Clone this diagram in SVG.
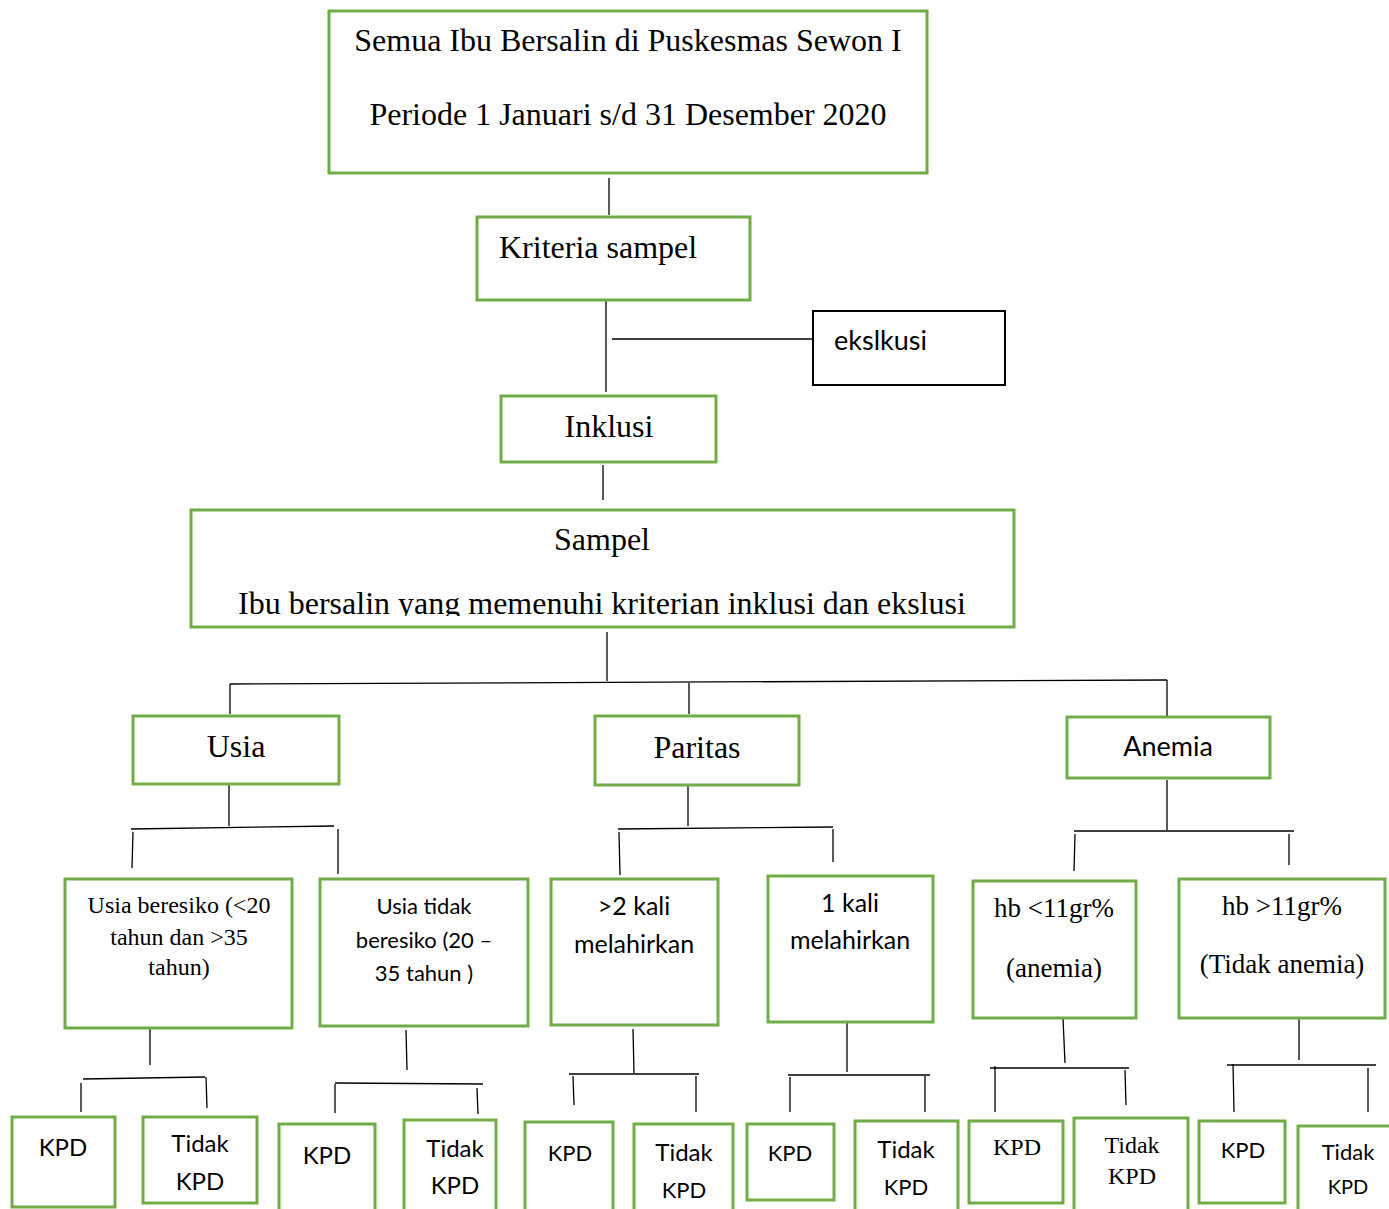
<svg xmlns="http://www.w3.org/2000/svg" width="1389" height="1209" viewBox="0 0 1389 1209">
<defs>
<style>
.g{fill:#fff;stroke:#70AD47;stroke-width:3}
.k{fill:#fff;stroke:#000;stroke-width:2}
.c line{stroke:#000;stroke-width:1.3}
.s{font-family:"Liberation Serif","Times New Roman",serif;fill:#000}
.a{font-family:Lato,"Liberation Sans",sans-serif;fill:#000}
.m{text-anchor:middle}
</style>
<clipPath id="clipS"><rect x="191" y="510" width="823" height="106"/></clipPath>
</defs>
<rect width="1389" height="1209" fill="#fff"/>
<g class="c">
<line x1="609" y1="178" x2="609" y2="215"/>
<line x1="606" y1="300" x2="606" y2="392"/>
<line x1="612" y1="339" x2="813" y2="339"/>
<line x1="603" y1="465" x2="603" y2="500"/>
<line x1="607" y1="632" x2="607" y2="681"/>
<line x1="230" y1="684" x2="1167" y2="680"/>
<line x1="230" y1="684" x2="230" y2="714"/>
<line x1="689" y1="683" x2="689" y2="714"/>
<line x1="1167" y1="680" x2="1167" y2="717"/>
<line x1="229" y1="785" x2="229" y2="826"/>
<line x1="131" y1="829" x2="334" y2="826"/>
<line x1="133" y1="832" x2="132" y2="868"/>
<line x1="338" y1="829" x2="338" y2="874"/>
<line x1="688" y1="786" x2="688" y2="826"/>
<line x1="618" y1="829" x2="833" y2="827"/>
<line x1="619" y1="832" x2="620" y2="875"/>
<line x1="833" y1="829" x2="833" y2="862"/>
<line x1="1167" y1="780" x2="1167" y2="830"/>
<line x1="1074" y1="831" x2="1294" y2="831"/>
<line x1="1075" y1="834" x2="1074" y2="871"/>
<line x1="1289" y1="834" x2="1289" y2="865"/>
<line x1="150" y1="1029" x2="150" y2="1065"/>
<line x1="83" y1="1079" x2="205" y2="1077"/>
<line x1="81" y1="1083" x2="81" y2="1112"/>
<line x1="206" y1="1077" x2="207" y2="1108"/>
<line x1="406" y1="1030" x2="407" y2="1070"/>
<line x1="335" y1="1083" x2="483" y2="1084"/>
<line x1="335" y1="1084" x2="335" y2="1113"/>
<line x1="477" y1="1088" x2="478" y2="1114"/>
<line x1="633" y1="1029" x2="634" y2="1073"/>
<line x1="569" y1="1074" x2="699" y2="1074"/>
<line x1="573" y1="1076" x2="574" y2="1105"/>
<line x1="696" y1="1076" x2="696" y2="1112"/>
<line x1="847" y1="1022" x2="847" y2="1072"/>
<line x1="788" y1="1075" x2="930" y2="1075"/>
<line x1="790" y1="1077" x2="790" y2="1112"/>
<line x1="925" y1="1076" x2="925" y2="1112"/>
<line x1="1063" y1="1018" x2="1065" y2="1063"/>
<line x1="990" y1="1068" x2="1129" y2="1068"/>
<line x1="995" y1="1066" x2="995" y2="1112"/>
<line x1="1125" y1="1070" x2="1126" y2="1105"/>
<line x1="1299" y1="1018" x2="1299" y2="1060"/>
<line x1="1227" y1="1065" x2="1376" y2="1065"/>
<line x1="1233" y1="1064" x2="1234" y2="1112"/>
<line x1="1368" y1="1068" x2="1368" y2="1112"/>
</g>
<g id="n-semua"><rect class="g" x="329" y="11" width="598" height="162"/>
<text class="s m" x="628" y="51" font-size="32">Semua Ibu Bersalin di Puskesmas Sewon I</text>
<text class="s m" x="628" y="125" font-size="32">Periode 1 Januari s/d 31 Desember 2020</text></g>
<g id="n-kriteria"><rect class="g" x="477" y="217" width="273" height="83"/>
<text class="s" x="499" y="258" font-size="32">Kriteria sampel</text></g>
<g id="n-eksklusi"><rect class="k" x="813" y="311" width="192" height="74"/>
<text class="a" x="834" y="350" font-size="27">ekslkusi</text></g>
<g id="n-inklusi"><rect class="g" x="501" y="396" width="215" height="66"/>
<text class="s m" x="609" y="437" font-size="32">Inklusi</text></g>
<g id="n-sampel"><rect class="g" x="191" y="510" width="823" height="117"/>
<text class="s m" x="602" y="550" font-size="32">Sampel</text>
<text class="s m" x="602" y="614" font-size="32" clip-path="url(#clipS)">Ibu bersalin yang memenuhi kriterian inklusi dan ekslusi</text></g>
<g id="n-usia"><rect class="g" x="133" y="716" width="206" height="68"/>
<text class="s m" x="236" y="757" font-size="32">Usia</text></g>
<g id="n-paritas"><rect class="g" x="595" y="716" width="204" height="69"/>
<text class="s m" x="697" y="758" font-size="32">Paritas</text></g>
<g id="n-anemia"><rect class="g" x="1067" y="717" width="203" height="61"/>
<text class="a m" x="1168" y="756" font-size="27">Anemia</text></g>
<g id="n-usia-beresiko"><rect class="g" x="65" y="879" width="227" height="149"/>
<text class="s m" x="179" y="913" font-size="24">Usia beresiko (&lt;20</text>
<text class="s m" x="179" y="945" font-size="24">tahun dan &gt;35</text>
<text class="s m" x="179" y="975" font-size="24">tahun)</text></g>
<g id="n-usia-tidak"><rect class="g" x="320" y="879" width="208" height="147"/>
<text class="a m" x="424" y="914" font-size="22">Usia tidak</text>
<text class="a m" x="424" y="948" font-size="22">beresiko (20 –</text>
<text class="a m" x="424" y="981" font-size="22">35 tahun )</text></g>
<g id="n-lebih2"><rect class="g" x="551" y="879" width="167" height="146"/>
<text class="a m" x="634" y="915" font-size="25">&gt;2 kali</text>
<text class="a m" x="634" y="953" font-size="25">melahirkan</text></g>
<g id="n-1kali"><rect class="g" x="768" y="876" width="165" height="146"/>
<text class="a m" x="850" y="912" font-size="25">1 kali</text>
<text class="a m" x="850" y="949" font-size="25">melahirkan</text></g>
<g id="n-hb-kurang"><rect class="g" x="973" y="881" width="163" height="137"/>
<text class="s m" x="1054" y="917" font-size="27">hb &lt;11gr%</text>
<text class="s m" x="1054" y="977" font-size="27">(anemia)</text></g>
<g id="n-hb-lebih"><rect class="g" x="1179" y="879" width="206" height="139"/>
<text class="s m" x="1282" y="915" font-size="27">hb &gt;11gr%</text>
<text class="s m" x="1282" y="973" font-size="27">(Tidak anemia)</text></g>
<g id="n-kpd1"><rect class="g" x="12" y="1117" width="103" height="90"/>
<text class="a m" x="63" y="1156" font-size="24">KPD</text></g>
<g id="n-tkpd1"><rect class="g" x="143" y="1117" width="114" height="86"/>
<text class="a m" x="200" y="1152" font-size="24">Tidak</text>
<text class="a m" x="200" y="1190" font-size="24">KPD</text></g>
<g id="n-kpd2"><rect class="g" x="279" y="1124" width="96" height="90"/>
<text class="a m" x="327" y="1164" font-size="24">KPD</text></g>
<g id="n-tkpd2"><rect class="g" x="404" y="1120" width="92" height="94"/>
<text class="a m" x="455" y="1157" font-size="24">Tidak</text>
<text class="a m" x="455" y="1194" font-size="24">KPD</text></g>
<g id="n-kpd3"><rect class="g" x="525" y="1122" width="88" height="92"/>
<text class="a m" x="570" y="1161" font-size="22">KPD</text></g>
<g id="n-tkpd3"><rect class="g" x="634" y="1124" width="99" height="90"/>
<text class="a m" x="684" y="1161" font-size="24">Tidak</text>
<text class="a m" x="684" y="1198" font-size="22">KPD</text></g>
<g id="n-kpd4"><rect class="g" x="747" y="1124" width="87" height="76"/>
<text class="a m" x="790" y="1161" font-size="22">KPD</text></g>
<g id="n-tkpd4"><rect class="g" x="855" y="1121" width="103" height="93"/>
<text class="a m" x="906" y="1158" font-size="24">Tidak</text>
<text class="a m" x="906" y="1195" font-size="22">KPD</text></g>
<g id="n-kpd5"><rect class="g" x="969" y="1121" width="94" height="82"/>
<text class="s m" x="1017" y="1155" font-size="24">KPD</text></g>
<g id="n-tkpd5"><rect class="g" x="1074" y="1118" width="114" height="96"/>
<text class="s m" x="1132" y="1153" font-size="24">Tidak</text>
<text class="s m" x="1132" y="1184" font-size="24">KPD</text></g>
<g id="n-kpd6"><rect class="g" x="1199" y="1121" width="86" height="82"/>
<text class="a m" x="1243" y="1158" font-size="22">KPD</text></g>
<g id="n-tkpd6"><rect class="g" x="1298" y="1126" width="96" height="88"/>
<text class="a m" x="1348" y="1160" font-size="22">Tidak</text>
<text class="a m" x="1348" y="1194" font-size="20">KPD</text></g>
</svg>
